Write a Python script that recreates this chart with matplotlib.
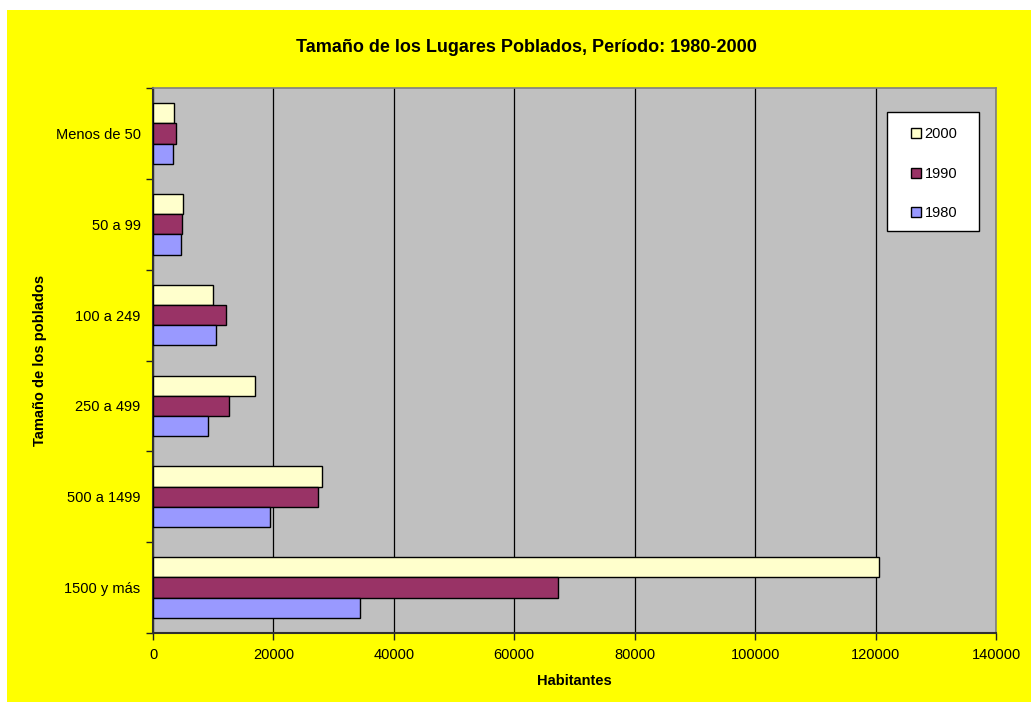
import numpy as np
import matplotlib
matplotlib.use('Agg')
import matplotlib.pyplot as plt
from matplotlib.patches import Rectangle, Patch

plt.rcParams['font.family'] = ['Liberation Sans', 'DejaVu Sans']

categories = ["Menos de 50", "50 a 99", "100 a 249", "250 a 499", "500 a 1499", "1500 y más"]
years = ["2000", "1990", "1980"]
hab_2000 = [3440, 5040, 9970, 16880, 28070, 120650]
hab_1990 = [3880, 4870, 12070, 12620, 27460, 67310]
hab_1980 = [3380, 4600, 10520, 9080, 19430, 34430]
colors = ["#FFFFCC", "#993366", "#9999FF"]
x_ticks = [0, 20000, 40000, 60000, 80000, 100000, 120000, 140000]

W, H = 1031, 702
fig = plt.figure(figsize=(W / 100, H / 100), dpi=100)
fig.patch.set_facecolor("white")
# yellow chart area
fig.add_artist(Rectangle((7 / W, 0), 1 - 7 / W, (H - 10) / H, transform=fig.transFigure,
                         facecolor="#FFFF00", edgecolor="none", zorder=-1))

ax = fig.add_axes([153 / W, (H - 633) / H, (996 - 153) / W, (633 - 88) / H])
ax.set_facecolor("#C0C0C0")

y = np.arange(len(categories))
h = 0.2225
for vals, off, col, lab in zip([hab_2000, hab_1990, hab_1980], [-h, 0, h], colors, years):
    ax.barh(y + off, vals, height=h, color=col, edgecolor="black", linewidth=1.0,
            label=lab, zorder=3)

ax.set_xlim(0, 140000)
ax.set_ylim(len(categories) - 0.5, -0.5)
ax.set_xticks(x_ticks)
ax.set_xticklabels([str(t) for t in x_ticks], fontsize=10.5)
ax.set_yticks(y)
ax.set_yticklabels(categories, fontsize=10.5)
ax.set_yticks(np.arange(len(categories) + 1) - 0.5, minor=True)
ax.tick_params(axis="y", which="major", length=0, pad=9)
ax.tick_params(axis="y", which="minor", length=5, width=1, color="#202020")
ax.tick_params(axis="x", length=5, width=1, color="#202020", pad=6)
ax.grid(axis="x", color="black", linewidth=0.9, zorder=1)
ax.set_axisbelow(True)

for s in ["top", "right"]:
    ax.spines[s].set_color("#808080")
    ax.spines[s].set_linewidth(1.2)
for s in ["left", "bottom"]:
    ax.spines[s].set_color("#303030")
    ax.spines[s].set_linewidth(1.5)

ax.set_xlabel("Habitantes", fontsize=10.5, fontweight="bold", labelpad=8.5)
ax.set_ylabel("Tamaño de los poblados", fontsize=10.5, fontweight="bold", labelpad=6)

fig.text(526 / W, 1 - 47 / H, "Tamaño de los Lugares Poblados, Período: 1980-2000",
         ha="center", va="center", fontsize=13, fontweight="bold")

# legend box with white frame
ax.add_patch(Rectangle((0.8707, 0.7376), 0.980 - 0.8707, 0.956 - 0.7376, transform=ax.transAxes,
                       facecolor="white", edgecolor="black", linewidth=1.0, zorder=5))
handles = [Patch(facecolor=c, edgecolor="black", linewidth=1.0) for c in colors]
leg = ax.legend(handles, years, loc="upper left", bbox_to_anchor=(0.899, 0.928),
                frameon=False, fontsize=10.5, handlelength=0.7, handleheight=0.7,
                handletextpad=0.25, labelspacing=1.75, borderpad=0, borderaxespad=0)
leg.set_zorder(6)

fig.savefig("out.png", dpi=100)
